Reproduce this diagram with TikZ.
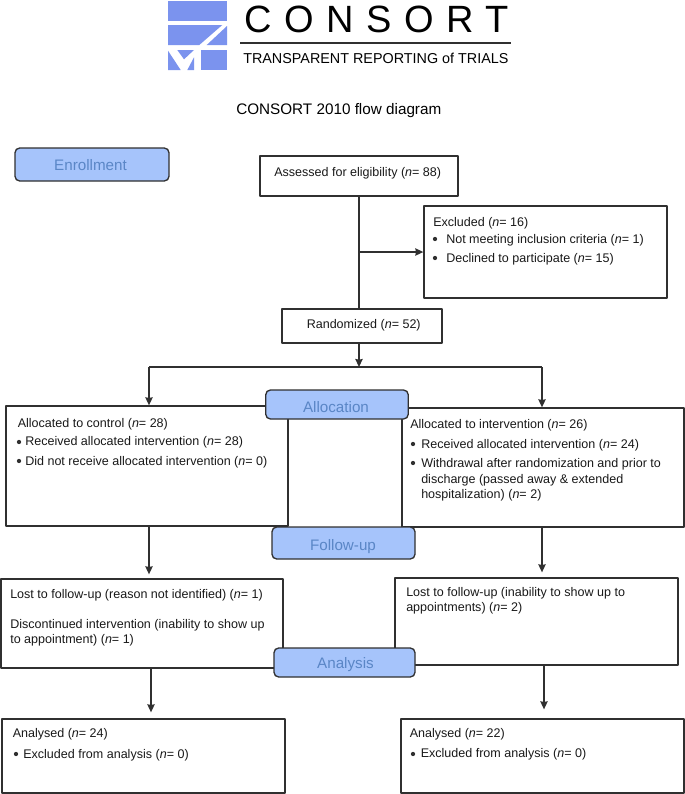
\documentclass[tikz,border=0pt]{standalone}
\usepackage{fontspec}
\setmainfont{Liberation Sans}
\newfontfamily\logofont[LetterSpace=33]{Liberation Sans}
\definecolor{logoblue}{HTML}{7B93EE}
\definecolor{stageblue}{HTML}{A6C4FB}
\definecolor{stagetext}{HTML}{5A86C6}
\definecolor{linegray}{HTML}{303030}
\newcommand{\nn}[1]{(\textit{n}= #1)}
\tikzset{
flowbox/.style 2 args={draw=linegray, line width=1pt, fill=white, inner sep=0pt, minimum width=#1*0.75pt, minimum height=#2*0.75pt},
stagebox/.style 2 args={draw=linegray, line width=1pt, fill=stageblue, rounded corners=3.5pt, inner sep=0pt, minimum width=#1*0.75pt, minimum height=#2*0.75pt},
stagetxt/.style={text=stagetext, font=\fontsize{11.4}{13}\selectfont, inner sep=0pt},
txt/.style={anchor=west, inner sep=0pt, yshift=-0.75pt, text=black!90, font=\fontsize{9.4}{11}\selectfont},
flow/.style={-{Stealth[length=6pt,width=5.5pt,inset=0.5pt]}, draw=linegray, line width=1pt}
}
\usetikzlibrary{arrows.meta}
\begin{document}
\begin{tikzpicture}[x=0.75pt, y=-0.75pt, line join=round]
\useasboundingbox (0,0) rectangle (685,794);
% logo
\fill[logoblue] (168,0.7) rectangle (227,20.7);
\fill[logoblue] (168,25)--(222.3,25)--(199.3,45)--(168,45)--cycle;
\fill[logoblue] (227,26)--(227,45)--(206.7,45)--cycle;
\fill[logoblue] (177.3,50)--(194,50)--(184,59.3)--cycle;
\fill[logoblue] (168,50.7)--(168,70)--(180.7,70)--cycle;
\fill[logoblue] (194,57.3)--(194,70)--(187.3,70)--cycle;
\fill[logoblue] (200.7,50) rectangle (227,70);
\node[anchor=base west, inner sep=0pt, font=\fontsize{28.5}{30}\logofont] (logoname) at (244,32) {CONSORT};
\draw[linegray, line width=1.1pt] (240,43)--(511,43);
\node[anchor=base west, inner sep=0pt, font=\fontsize{10.77}{12}\selectfont] (tagline) at (243,63) {TRANSPARENT REPORTING of TRIALS};
\node[anchor=base west, inner sep=0pt, font=\fontsize{11.45}{13}\selectfont] (title) at (236,114) {CONSORT 2010 flow diagram};
% boxes
\node[flowbox={198}{40}] (assess) at (359,176) {};
\node[flowbox={243}{92}] (excl) at (545.5,252) {};
\node[flowbox={160}{34}] (random) at (362,326) {};
\node[flowbox={282}{120}] (ctrl) at (147,466) {};
\node[flowbox={282}{119}] (interv) at (543,467.5) {};
\node[flowbox={282}{89}] (lostctrl) at (142,623.5) {};
\node[flowbox={283}{87}] (lostinterv) at (536.5,621.5) {};
\node[flowbox={283}{74}] (anactrl) at (143.5,756) {};
\node[flowbox={283}{74}] (anainterv) at (542.5,756) {};
% connectors
\coordinate (split) at (assess.south |- 0,367);
\coordinate (splitl) at (149,367);
\coordinate (splitr) at (542,367);
\coordinate (downl) at (151,700);
\coordinate (downr) at (544,700);
\draw[flow, -] (assess.south) -- (assess.south |- random.north);
\draw[flow] (assess.south |- excl.west) -- (excl.west);
\draw[flow] (split |- random.south) -- (split);
\draw[flow, -] (splitl) -- (splitr);
\draw[flow] (splitl) -- (splitl |- ctrl.north);
\draw[flow] (splitr) -- (splitr |- interv.north);
\draw[flow, shorten >=3pt] (splitl |- ctrl.south) -- (splitl |- lostctrl.north);
\draw[flow, shorten >=3.75pt] (splitr |- interv.south) -- (splitr |- lostinterv.north);
\draw[flow, shorten >=4.5pt] (downl |- lostctrl.south) -- (downl |- anactrl.north);
\draw[flow, shorten >=6.75pt] (downr |- lostinterv.south) -- (downr |- anainterv.north);
% stages
\node[stagebox={154}{33}] (enroll) at (92,164.5) {};
\node[stagetxt] (enrollt) at (90.5,165) {Enrollment};
\node[stagebox={142.5}{29}] (alloc) at (337,404.5) {};
\node[stagetxt] (alloct) at (336,407) {Allocation};
\node[stagebox={143}{32}] (follow) at (343.5,543) {};
\node[stagetxt] (followt) at (343,546.5) {Follow-up};
\node[stagebox={141}{29}] (analysis) at (344.5,662.5) {};
\node[stagetxt] (analysist) at (345.5,664.5) {Analysis};
% texts
\node[txt] (t1) at (274,172.7) {Assessed for eligibility \nn{88}};
\node[txt] (t2) at (433,222) {Excluded \nn{16}};
\node[txt] (t3) at (446,239) {Not meeting inclusion criteria \nn{1}};
\node[txt] (t4) at (446,258) {Declined to participate \nn{15}};
\node[txt] (t5) at (306.5,324.7) {Randomized \nn{52}};
\node[txt] (t6) at (17.5,423) {Allocated to control \nn{28}};
\node[txt] (t7) at (25,441.5) {Received allocated intervention \nn{28}};
\node[txt] (t8) at (25,461) {Did not receive allocated intervention \nn{0}};
\node[txt] (t9) at (410,424) {Allocated to intervention \nn{26}};
\node[txt] (t10) at (421,444) {Received allocated intervention \nn{24}};
\node[txt] (t11) at (421,463) {Withdrawal after randomization and prior to};
\node[txt] (t12) at (421,479) {discharge (passed away \& extended};
\node[txt] (t13) at (421,494) {hospitalization) \nn{2}};
\node[txt] (t14) at (10,594) {Lost to follow-up (reason not identified) \nn{1}};
\node[txt] (t15) at (10,624) {Discontinued intervention (inability to show up};
\node[txt] (t16) at (10,639) {to appointment) \nn{1}};
\node[txt] (t17) at (406,592) {Lost to follow-up (inability to show up to};
\node[txt] (t18) at (406,607) {appointments) \nn{2}};
\node[txt] (t19) at (12.5,733) {Analysed \nn{24}};
\node[txt] (t20) at (23,754) {Excluded from analysis \nn{0}};
\node[txt] (t21) at (409.5,733) {Analysed \nn{22}};
\node[txt] (t22) at (420.5,753) {Excluded from analysis \nn{0}};
% bullets
\fill[linegray] (435,239) circle (1.6pt) (435,258) circle (1.6pt)
(19,442) circle (1.6pt) (19,461) circle (1.6pt)
(413,444) circle (1.6pt) (413,463) circle (1.6pt)
(16,754) circle (1.6pt) (413,754) circle (1.6pt);
\end{tikzpicture}
\end{document}
